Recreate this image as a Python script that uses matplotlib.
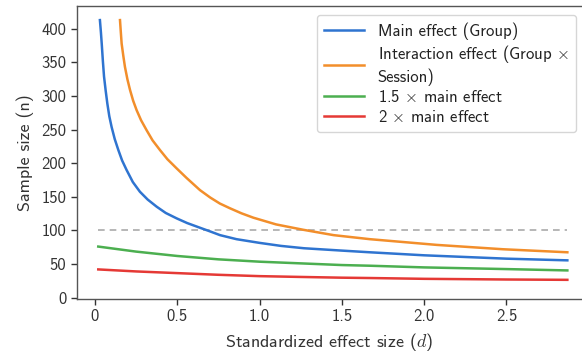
import matplotlib
matplotlib.use("Agg")
import matplotlib.pyplot as plt

plt.rcParams['font.family'] = ['cmss10', 'DejaVu Sans']
plt.rcParams['mathtext.fontset'] = 'cm'
plt.rcParams['axes.unicode_minus'] = False

# Data
main_d = [0.030, 0.036, 0.041, 0.048, 0.055, 0.065, 0.075, 0.087, 0.101, 0.12, 0.142, 0.165, 0.192, 0.23,
          0.273, 0.32, 0.375, 0.43, 0.496, 0.56, 0.638, 0.70, 0.76, 0.86, 1.0,
          1.13, 1.27, 1.5, 1.67, 2.0, 2.25, 2.5, 2.87]
main_n = [413, 395, 378, 352, 329, 308, 289, 270, 254, 236, 219.6, 204, 190, 172,
          157.6, 146, 135.3, 126, 118, 111, 104, 98.5, 93, 87, 81.5,
          77, 73.5, 70, 67.5, 63, 60.5, 58, 55.5]

inter_d = [0.152, 0.157, 0.162, 0.172, 0.182, 0.197, 0.213, 0.232, 0.253, 0.28, 0.314, 0.35, 0.395, 0.44,
           0.496, 0.557, 0.638, 0.70, 0.759, 0.82, 0.89, 0.962, 1.1,
           1.265, 1.45, 1.67, 2.076, 2.48, 2.87]
inter_n = [413, 395, 378, 360, 343.5, 325, 309, 293, 279, 264, 249, 234, 219.6, 206,
           192.4, 178, 160, 149, 140, 133, 125.5, 119, 109,
           101, 93, 87, 78.5, 72, 67.5]

low_d = [0.02, 0.25, 0.5, 0.75, 1.0, 1.25, 1.5, 1.67, 2.0, 2.5, 2.87]
main15_n = [76, 68.5, 62, 57, 53.5, 51, 48.5, 47.5, 45, 42.5, 40.5]
main2_n = [42, 39, 36.5, 34, 32, 30.8, 29.7, 29.2, 28, 27, 26.5]

threshold = 100
xticks = [0, 0.5, 1.0, 1.5, 2.0, 2.5]
xtick_labels = ["0", "0.5", "1.0", "1.5", "2.0", "2.5"]
yticks = [0, 50, 100, 150, 200, 250, 300, 350, 400]

labels = ["Main effect (Group)", "Interaction effect (Group $\\times\\;\\;$\nSession)",
          "1.5 $\\times$ main effect", "2 $\\times$ main effect"]
colors = ["#2f74d0", "#f28e2b", "#4caf50", "#e53935"]

fig = plt.figure(figsize=(5.82, 3.52), dpi=100)
ax = fig.add_axes([0.1318, 0.1506, 0.8682, 0.8324])

ax.hlines(threshold, low_d[0], low_d[-1], colors="#aaaaaa", linestyles=(0, (4, 3)), linewidth=1.2, zorder=1)
ax.plot(main_d, main_n, color=colors[0], lw=1.8, label=labels[0])
ax.plot(inter_d, inter_n, color=colors[1], lw=1.8, label=labels[1])
ax.plot(low_d, main15_n, color=colors[2], lw=1.8, label=labels[2])
ax.plot(low_d, main2_n, color=colors[3], lw=1.8, label=labels[3])

ax.set_xlim(-0.111, 2.959)
ax.set_ylim(-2, 434)
ax.set_xticks(xticks)
ax.set_xticklabels(xtick_labels)
ax.set_yticks(yticks)
ax.tick_params(labelsize=12, colors="#333333", length=4, width=1, direction="out")
for s in ["left", "bottom", "top"]:
    ax.spines[s].set_color("#555555")
    ax.spines[s].set_linewidth(1.0)
ax.spines["right"].set_visible(False)

ax.set_xlabel("Standardized effect size ($d$)", fontsize=13, color="#333333", labelpad=5)
ax.set_ylabel("Sample size (n)", fontsize=13, color="#333333", labelpad=5)

leg = ax.legend(loc="upper right", fontsize=12, frameon=True, fancybox=True,
                edgecolor="#cccccc", handlelength=2.4, handletextpad=0.8, borderpad=0.45,
                labelspacing=0.22, borderaxespad=0, bbox_to_anchor=(0.988, 0.97))
for t in leg.get_texts():
    t.set_color("#222222")

fig.savefig("out.png", dpi=100)
